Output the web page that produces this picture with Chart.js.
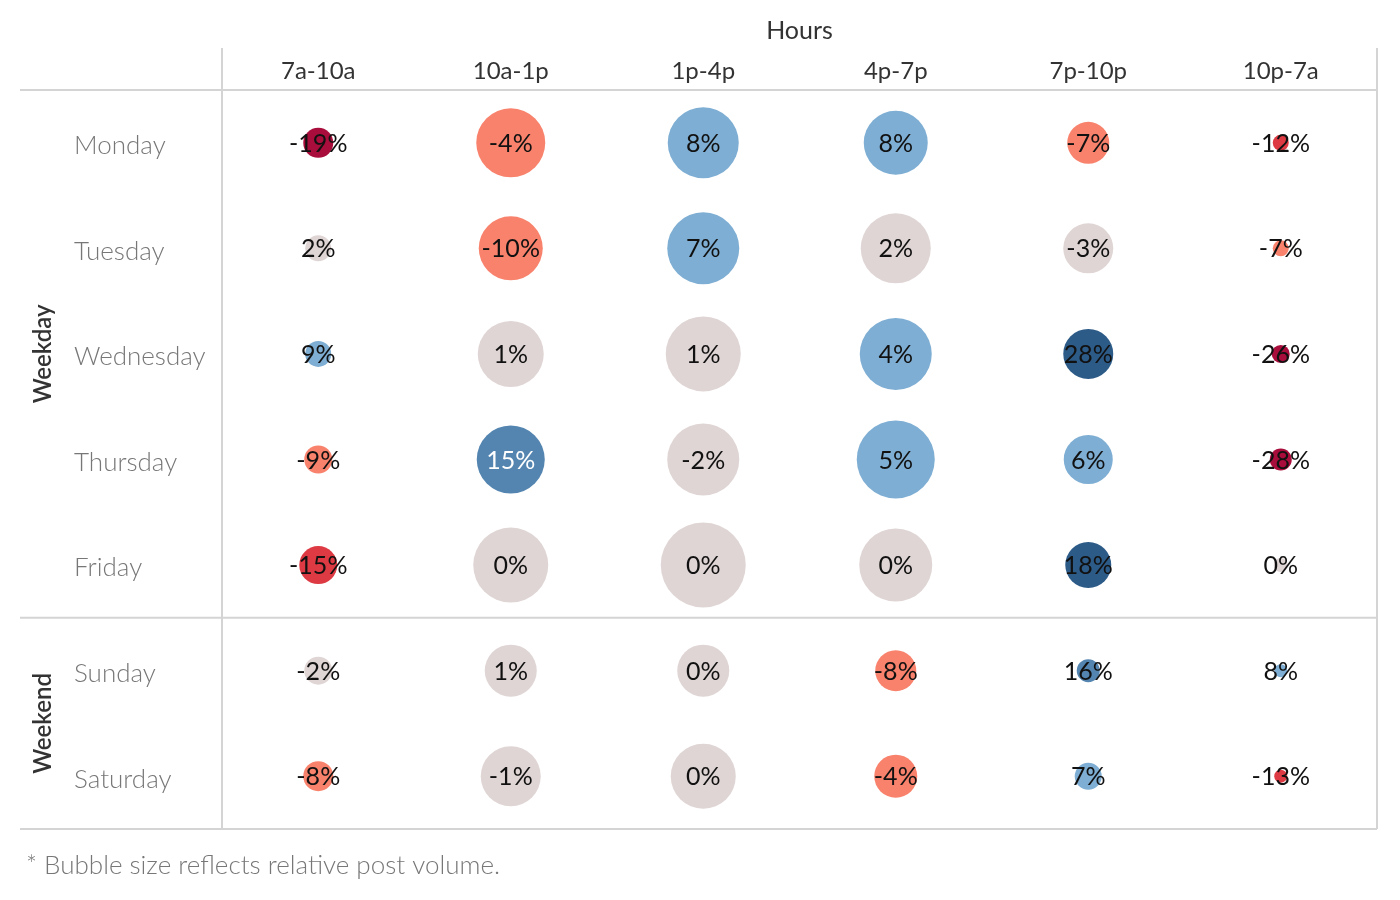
<!DOCTYPE html>
<html>
<head>
<meta charset="utf-8">
<script src="https://cdn.jsdelivr.net/npm/chart.js@4.4.1/dist/chart.umd.min.js"></script>
<style>
  html, body { margin: 0; padding: 0; background: #fff; overflow: hidden; }
  #wrap { width: 1400px; height: 900px; position: relative; }
</style>
</head>
<body>
<div id="wrap"><canvas id="grafico" width="1400" height="900"></canvas></div>
<script>
// -------------------------
// Dados
// -------------------------
const hours = ["7a-10a", "10a-1p", "1p-4p", "4p-7p", "7p-10p", "10p-7a"];
const days = ["Monday", "Tuesday", "Wednesday", "Thursday", "Friday", "Sunday", "Saturday"];
const groupNames = ["Weekday", "Weekend"];
const groupSizes = [5, 2];

// % change vs average, one array per day (same order as hours)
const monChange = [-19, -4, 8, 8, -7, -12];
const tueChange = [2, -10, 7, 2, -3, -7];
const wedChange = [9, 1, 1, 4, 28, -26];
const thuChange = [-9, 15, -2, 5, 6, -28];
const friChange = [-15, 0, 0, 0, 18, 0];
const sunChange = [-2, 1, 0, -8, 16, 8];
const satChange = [-8, -1, 0, -4, 7, -13];

// relative post volume (bubble size)
const monSize = [15, 34.5, 35.5, 32, 21, 8];
const tueSize = [13, 32, 36, 35, 25, 8];
const wedSize = [13, 33, 37.5, 36, 25, 9];
const thuSize = [14, 34, 36, 39, 24.5, 11];
const friSize = [19, 37.5, 42.5, 36.5, 23, 7];
const sunSize = [14, 26, 26, 20.5, 11.5, 6.5];
const satSize = [15, 30, 32.5, 21.5, 13.5, 6.5];

const changeRows = [monChange, tueChange, wedChange, thuChange, friChange, sunChange, satChange];
const sizeRows = [monSize, tueSize, wedSize, thuSize, friSize, sunSize, satSize];

// -------------------------
// Cores (paleta divergente em degraus)
// -------------------------
function corPorValor(v) {
  if (v <= -17) return "#a80d3b";
  if (v <= -11) return "#de3a43";
  if (v <= -3.5) return "#f8826c";
  if (v < 3.5) return "#dfd5d4";
  if (v < 11) return "#7eaed3";
  if (v < 17) return "#5385b0";
  return "#2d5b88";
}

const pontos = [];
changeRows.forEach((linha, d) => {
  linha.forEach((v, h) => {
    pontos.push({ x: h, y: d, r: sizeRows[d][h], v: v });
  });
});

const FONTE = "Lato, 'Open Sans', sans-serif";
const LINHA = "#d4d4d4";

// -------------------------
// Plugin: grade, cabeçalhos e rótulos
// -------------------------
const tabelaPlugin = {
  id: "tabela",
  beforeDatasetsDraw(chart) {
    const { ctx, chartArea, scales } = chart;
    const xs = scales.x, ys = scales.y;
    ctx.save();
    ctx.strokeStyle = LINHA;
    ctx.lineWidth = 2;
    const linha = (x1, y1, x2, y2) => {
      ctx.beginPath(); ctx.moveTo(x1, y1); ctx.lineTo(x2, y2); ctx.stroke();
    };
    const topo = 48;
    // horizontais
    linha(20, chartArea.top, chartArea.right, chartArea.top);
    linha(20, chartArea.bottom, chartArea.right, chartArea.bottom);
    const sep = ys.getPixelForValue(groupSizes[0] - 0.5);
    linha(20, sep, chartArea.right, sep);
    // verticais
    linha(chartArea.left, topo, chartArea.left, chartArea.bottom);
    linha(chartArea.right, topo, chartArea.right, chartArea.bottom);

    // título "Hours"
    ctx.fillStyle = "#333";
    ctx.textAlign = "center";
    ctx.textBaseline = "middle";
    ctx.font = "25px " + FONTE;
    ctx.fillText("Hours", (chartArea.left + chartArea.right) / 2, 31);

    // colunas
    ctx.font = "24px " + FONTE;
    hours.forEach((h, i) => {
      ctx.fillText(h, xs.getPixelForValue(i), 71);
    });

    // linhas (dias)
    ctx.textAlign = "left";
    ctx.fillStyle = "#777";
    ctx.font = "300 26px " + FONTE;
    days.forEach((d, i) => {
      ctx.fillText(d, 74, ys.getPixelForValue(i) + 3);
    });

    // grupos (rotacionados)
    ctx.fillStyle = "#333";
    ctx.font = "600 24px " + FONTE;
    ctx.textAlign = "center";
    let ini = 0;
    groupNames.forEach((g, i) => {
      const fim = ini + groupSizes[i];
      const y1 = ys.getPixelForValue(ini - 0.5);
      const y2 = ys.getPixelForValue(fim - 0.5);
      ctx.save();
      ctx.translate(43, (y1 + y2) / 2);
      ctx.rotate(-Math.PI / 2);
      ctx.fillText(g, 0, 0);
      ctx.restore();
      ini = fim;
    });

    // nota de rodapé
    ctx.textAlign = "left";
    ctx.fillStyle = "#777";
    ctx.font = "300 26px " + FONTE;
    ctx.fillText("* Bubble size reflects relative post volume.", 26, 866);
    ctx.restore();
  },
  afterDatasetsDraw(chart) {
    const { ctx } = chart;
    const meta = chart.getDatasetMeta(0);
    ctx.save();
    ctx.textAlign = "center";
    ctx.textBaseline = "middle";
    ctx.font = "25px " + FONTE;
    meta.data.forEach((el, i) => {
      const p = pontos[i];
      const branco = p.v >= 11 && p.v < 17 && p.r > 30;
      ctx.fillStyle = branco ? "#ffffff" : "#111111";
      ctx.fillText(p.v + "%", el.x, el.y + 1);
    });
    ctx.restore();
  }
};

// -------------------------
// Gráfico
// -------------------------
const ctx = document.getElementById("grafico").getContext("2d");
new Chart(ctx, {
  type: "bubble",
  data: {
    datasets: [{
      data: pontos,
      backgroundColor: pontos.map(p => corPorValor(p.v)),
      borderWidth: 0,
      hoverBorderWidth: 0
    }]
  },
  options: {
    responsive: false,
    animation: false,
    layout: {
      autoPadding: false,
      padding: { left: 222, right: 23, top: 90, bottom: 71 }
    },
    plugins: {
      legend: { display: false },
      tooltip: { enabled: false }
    },
    scales: {
      x: { type: "linear", min: -0.5, max: 5.5, display: false },
      y: { type: "linear", min: -0.5, max: 6.5, reverse: true, display: false }
    }
  },
  plugins: [tabelaPlugin]
});
</script>
</body>
</html>
